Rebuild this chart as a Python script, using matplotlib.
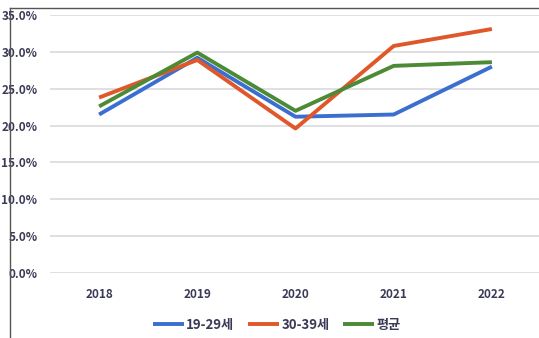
import matplotlib
matplotlib.use("Agg")
import matplotlib.pyplot as plt
from matplotlib.lines import Line2D
from matplotlib.ticker import FuncFormatter

plt.rcParams['font.family'] = ['Noto Sans CJK KR', 'DejaVu Sans']

years = ['2018', '2019', '2020', '2021', '2022']
age_19_29 = [21.5, 29.2, 21.2, 21.5, 28.0]
age_30_39 = [23.8, 28.9, 19.6, 30.8, 33.1]
average = [22.6, 29.9, 22.0, 28.1, 28.6]
labels = ['19-29세', '30-39세', '평균']
colors = ['#3A6FD0', '#E0572A', '#4C8A35']

text_color = '#3A3A58'

fig = plt.figure(figsize=(5.39, 3.38), dpi=100)
ax = fig.add_axes([50 / 539, 65 / 338, 491 / 539, 258 / 338])

x = range(len(years))
for vals, lab, col in zip([age_19_29, age_30_39, average], labels, colors):
    ax.plot(x, vals, color=col, lw=2.8, label=lab, solid_capstyle='butt')

ax.set_xlim(-0.5, len(years) - 0.5)
ax.set_ylim(0, 35)
ax.set_yticks(range(0, 36, 5))
ax.yaxis.set_major_formatter(FuncFormatter(lambda v, p: f'{v:.1f}%'))
ax.set_xticks(list(x))
ax.set_xticklabels(years)
ax.grid(axis='y', color='#DCDCE2', lw=1.3)
ax.set_axisbelow(True)
for s in ax.spines.values():
    s.set_visible(False)
ax.tick_params(length=0, labelsize=8.5, colors=text_color)
ax.tick_params(axis='y', pad=9)
ax.tick_params(axis='x', pad=11)
for t in ax.get_xticklabels() + ax.get_yticklabels():
    t.set_fontweight('bold')

# outer frame (top and left border)
fig.add_artist(Line2D([9.5 / 539, 1], [1 - 7.5 / 338, 1 - 7.5 / 338], color='#555555', lw=1))
fig.add_artist(Line2D([9.5 / 539, 9.5 / 539], [0, 1 - 7.5 / 338], color='#555555', lw=1))

leg = fig.legend(loc='center', bbox_to_anchor=(0.513, 1 - 325 / 338), ncol=3, frameon=False,
                 fontsize=9.5, handlelength=2.4, columnspacing=1.0, handletextpad=0.15)
for t in leg.get_texts():
    t.set_color(text_color)
    t.set_fontweight('bold')

fig.savefig('out.png', dpi=100)
